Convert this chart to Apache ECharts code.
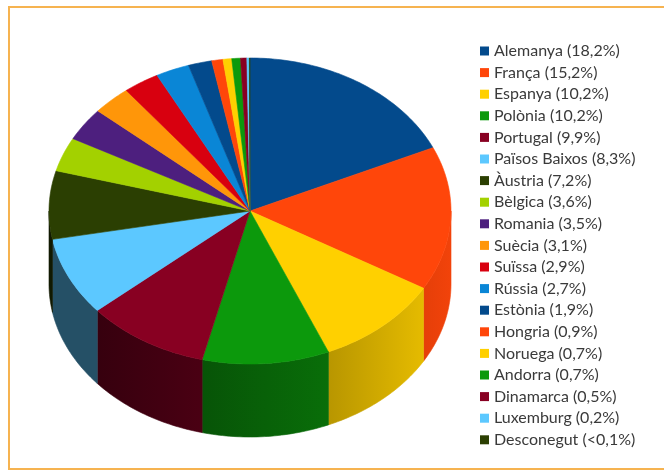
<!DOCTYPE html>
<html><head><meta charset="utf-8">
<script src="https://cdn.jsdelivr.net/npm/echarts@6/dist/echarts.min.js"></script>
<style>html,body{margin:0;padding:0;background:#fff}#c{width:664px;height:472px}</style>
</head><body><div id="c"></div>
<script>
const countries = ["Alemanya","França","Espanya","Polònia","Portugal","Països Baixos","Àustria","Bèlgica","Romania","Suècia","Suïssa","Rússia","Estònia","Hongria","Noruega","Andorra","Dinamarca","Luxemburg","Desconegut"];
const shares = [18.2,15.2,10.2,10.2,9.9,8.3,7.2,3.6,3.5,3.1,2.9,2.7,1.9,0.9,0.7,0.7,0.5,0.2,0.05];
const shareLabels = ["18,2%","15,2%","10,2%","10,2%","9,9%","8,3%","7,2%","3,6%","3,5%","3,1%","2,9%","2,7%","1,9%","0,9%","0,7%","0,7%","0,5%","0,2%","<0,1%"];
const colors = ["#034a8c","#ff460a","#ffd000","#0c990c","#880022","#5cc8ff","#2b3f02","#a3d100","#4d1f7e","#ff9609","#d8000f","#0a86d6","#034a8c","#ff460a","#ffd000","#0c990c","#880022","#5cc8ff","#2b3f02"];

const total = shares.reduce((a, b) => a + b, 0);
const starts = [];
let acc = 0;
shares.forEach(v => { starts.push(acc); acc += v; });

function shade(hex, k) {
  const h = hex.replace('#', '');
  const r = parseInt(h.substr(0, 2), 16), g = parseInt(h.substr(2, 2), 16), b = parseInt(h.substr(4, 2), 16);
  return 'rgb(' + Math.round(r * k) + ',' + Math.round(g * k) + ',' + Math.round(b * k) + ')';
}
function kAt(t) {
  const deg = t * 180 / Math.PI;
  return Math.max(0.4, Math.min(0.95, 0.97 - (deg - 105) / 105 * 0.5));
}

function makeRender(i) {
  return function (params, api) {
    const cx = 250, cy = 211, rx = 201, ry = 153, depth = 73;
    const v = api.value(0);
    const a0 = starts[i] / total * 2 * Math.PI;
    const a1 = (starts[i] + v) / total * 2 * Math.PI;
    const color = api.visual('color');
    const P = (t, dy) => [cx + rx * Math.sin(t), cy - ry * Math.cos(t) + (dy || 0)];
    const children = [];
    const s = Math.max(a0, Math.PI / 2), e = Math.min(a1, 1.5 * Math.PI);
    if (e > s) {
      const n = Math.max(2, Math.ceil((e - s) * 180 / Math.PI));
      const pts = [];
      for (let j = 0; j <= n; j++) pts.push(P(s + (e - s) * j / n));
      for (let j = n; j >= 0; j--) pts.push(P(s + (e - s) * j / n, depth));
      const grad = { type: 'linear', x: 0, y: 0, x2: 1, y2: 0, colorStops: [
        { offset: 0, color: shade(color, kAt(e)) }, { offset: 1, color: shade(color, kAt(s)) }] };
      children.push({ type: 'polygon', shape: { points: pts }, style: { fill: grad, stroke: grad, lineWidth: 0.6 } });
    }
    const n2 = Math.max(2, Math.ceil((a1 - a0) * 180 / Math.PI));
    const tp = [[cx, cy]];
    for (let j = 0; j <= n2; j++) tp.push(P(a0 + (a1 - a0) * j / n2));
    children.push({ type: 'polygon', shape: { points: tp }, style: { fill: color, stroke: color, lineWidth: 0.6 } });
    return { type: 'group', children };
  };
}

const chart = echarts.init(document.getElementById('c'), null, { renderer: 'canvas' });
chart.setOption({
  backgroundColor: '#ffffff',
  animation: false,
  graphic: [{ type: 'rect', silent: true, z: -1, shape: { x: 9, y: 7, width: 700, height: 462 },
    style: { fill: null, stroke: '#f6b350', lineWidth: 2 } }],
  legend: {
    orient: 'vertical', left: 475, top: 38, icon: 'rect', itemWidth: 9, itemHeight: 9, itemGap: 5.6,
    selectedMode: false, data: countries,
    formatter: name => name + ' (' + shareLabels[countries.indexOf(name)] + ')',
    textStyle: { fontFamily: 'Lato', fontSize: 16, color: '#3a3a3a', lineHeight: 16 }
  },
  series: countries.map((name, i) => ({
    type: 'custom', name, coordinateSystem: 'none', silent: true,
    renderItem: makeRender(i), data: [[shares[i]]], itemStyle: { color: colors[i] }
  }))
});
</script></body></html>
